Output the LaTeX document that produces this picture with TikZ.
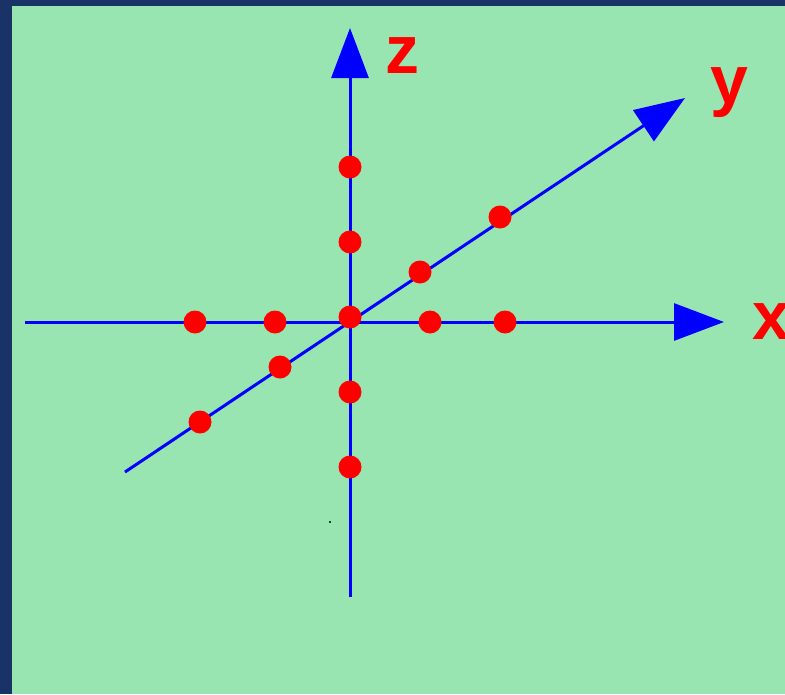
\documentclass[tikz,border=0pt]{standalone}
\usepackage{fontspec}
\setsansfont{Liberation Sans}
\usepackage{tikz}
\usetikzlibrary{arrows.meta, positioning, calc}
\definecolor{bggreen}{RGB}{152,229,177}
\definecolor{framenavy}{RGB}{26,51,102}
\definecolor{axisblue}{RGB}{0,0,255}
\definecolor{dotred}{RGB}{255,0,0}

\begin{document}
\begin{tikzpicture}[
    x=1pt, y=-1pt,
    axis/.style={axisblue, line width=3pt, -{Triangle[length=50pt, width=37pt]}},
    dot/.style={circle, fill=dotred, inner sep=0pt, minimum size=23pt},
    lbl/.style={font=\fontsize{68}{68}\sffamily\bfseries, text=dotred, inner sep=0pt},
  ]
  \useasboundingbox (0,0) rectangle (785,694);
  \fill[framenavy] (0,0) rectangle (785,694);
  \fill[bggreen] (12,6) rectangle (785,694);
  % axis ends
  \coordinate (xs) at (25,322);
  \coordinate (xe) at (724,322);
  \coordinate (zs) at (350,597);
  \coordinate (ze) at (350,28);
  \coordinate (ys) at (125,472);
  \coordinate (ye) at (685,98);
  \draw[axis] (xs) -- (xe);
  \draw[axis] (zs) -- (ze);
  \draw[axis] (ys) -- (ye);
  % labels
  \node[lbl, anchor=base west] (lx) at (752,339) {x};
  \node[lbl, anchor=base] (lz) at (402,73) {z};
  \node[lbl, anchor=base] (ly) at (729,103) {y};
  % points on z
  \node[dot] (z2) at (350,167) {};
  \node[dot] (z1) at (350,242) {};
  \node[dot] (o) at (350,317) {};
  \node[dot] (zm1) at (350,392) {};
  \node[dot] (zm2) at (350,467) {};
  % points on x
  \node[dot] (xm2) at (195,322) {};
  \node[dot] (xm1) at (275,322) {};
  \node[dot] (x1) at (430,322) {};
  \node[dot] (x2) at (505,322) {};
  % points on y
  \node[dot] (y1) at (420,272) {};
  \node[dot] (y2) at (500,217) {};
  \node[dot] (ym1) at (280,367) {};
  \node[dot] (ym2) at (200,422) {};
  \fill[black!80] (329,521) rectangle (331,523);
\end{tikzpicture}
\end{document}
